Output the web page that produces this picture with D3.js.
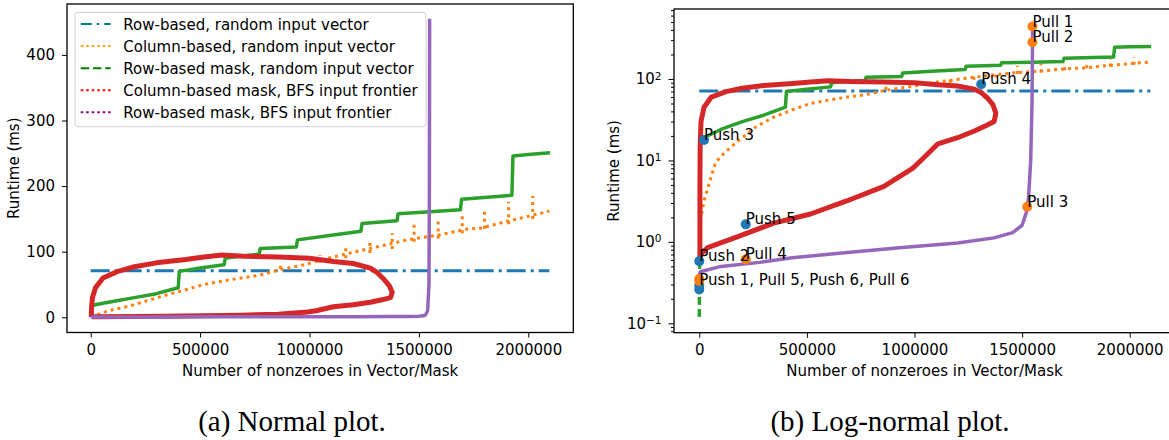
<!DOCTYPE html>
<html>
<head>
<meta charset="utf-8">
<script src="https://cdn.jsdelivr.net/npm/d3@7"></script>
<style>
  body { margin: 0; background: #fff; }
  svg text { font-family: "DejaVu Sans", sans-serif; }
  .caption { font-family: "Liberation Serif", "Times New Roman", serif; }
</style>
</head>
<body>
<svg id="chart" width="1169" height="440"></svg>
<script>
// ---- data (x = nonzeroes, y = runtime in ms) ----
const seriesNames = [
  "Row-based, random input vector",
  "Column-based, random input vector",
  "Row-based mask, random input vector",
  "Column-based mask, BFS input frontier",
  "Row-based mask, BFS input frontier"
];

const rowRandom = [[0, 71], [2096000, 71]];

const colRandom = [
  [0, 1.0], [2000, 1.6], [22000, 3.2], [73000, 9], [96000, 11], [176000, 17],
  [265000, 26], [346000, 34], [434000, 42], [517000, 50], [600000, 55],
  [688000, 60], [771000, 64], [858000, 72], [974000, 80], [1109000, 92],
  [1250000, 103], [1370000, 112], [1446000, 118], [1600000, 126],
  [1710000, 134], [1784000, 136], [1900000, 146], [2050000, 158], [2096000, 162]
];

// vertical dotted excursions of the column-based series: [x, low, high]
const colRandomSpikes = [
  [867000, 74, 84], [1048000, 83, 95], [1166000, 90, 108], [1276000, 98, 115],
  [1378000, 104, 128], [1478000, 115, 145], [1588000, 120, 152],
  [1698000, 128, 157], [1800000, 135, 165], [1910000, 142, 176], [2020000, 150, 185]
];

// dashed start of the row-based mask series, then the solid staircase
const rowMaskRandomStart = [[0, 0.12], [2000, 1]];
const rowMaskRandom = [
  [2000, 1], [4000, 17], [20000, 19], [100000, 24], [200000, 30],
  [300000, 36], [400000, 45], [405000, 70], [500000, 75], [610000, 80],
  [615000, 90], [700000, 94], [770000, 96], [775000, 105], [940000, 107],
  [945000, 118], [1100000, 125], [1235000, 131], [1240000, 143], [1400000, 147],
  [1405000, 158], [1550000, 161], [1690000, 164], [1695000, 180], [1925000, 186],
  [1930000, 246], [2000000, 248], [2100000, 251]
];

const colMaskBfs = [
  [3000, 0.6], [3000, 5], [4000, 15], [8000, 30], [22000, 45], [56000, 60],
  [124000, 70], [200000, 77], [300000, 83], [434000, 88], [517000, 92],
  [600000, 95], [700000, 93], [858000, 92], [1000000, 90], [1109000, 85],
  [1200000, 82], [1278000, 75], [1310000, 68], [1340000, 58], [1365000, 48],
  [1378000, 38], [1370000, 30], [1336000, 27], [1278000, 23], [1200000, 19],
  [1109000, 16], [1030000, 10], [991000, 8], [858000, 4.8], [688000, 3.2],
  [517000, 2.2], [346000, 1.7], [176000, 1.15], [39000, 0.85], [5000, 0.7]
];

const rowMaskBfs = [
  [0, 0.38], [5000, 0.43], [100000, 0.5], [281000, 0.56], [432000, 0.64],
  [688000, 0.74], [944000, 0.85], [1200000, 0.97], [1370000, 1.12],
  [1456000, 1.3], [1500000, 1.6], [1520000, 2.3], [1530000, 3.5],
  [1540000, 10], [1546000, 50], [1548000, 200], [1549000, 455]
];

const pushPoints = [[0, 0.26], [0, 0.58], [22000, 17.8], [1310000, 86], [216000, 1.64], [0, 0.29]];
const pullPoints = [[1548000, 440], [1548000, 282], [1524000, 2.7], [216000, 0.61], [0, 0.33], [0, 0.35]];

const annotations = [
  [1548000, 440, "Pull 1"], [1548000, 282, "Pull 2"], [1310000, 86, "Push 4"],
  [22000, 17.8, "Push 3"], [1524000, 2.7, "Pull 3"], [216000, 1.64, "Push 5"],
  [216000, 0.61, "Pull 4"], [0, 0.58, "Push 2"], [0, 0.296, "Push 1, Pull 5, Push 6, Pull 6"]
];

const xTicks = [0, 500000, 1000000, 1500000, 2000000];
const linTicks = [0, 100, 200, 300, 400];
const logTicks = [0.1, 1, 10, 100];
const captions = ["(a) Normal plot.", "(b) Log-normal plot."];

// ---- styles ----
const series = [
  { data: rowRandom, color: "#1f77b4", width: 3, dash: "19,5,3,5", legend: "#008080", legendDash: "11,5,2.5,5" },
  { data: colRandom, color: "#ff7f0e", width: 3, dash: "3,4", legend: "#ffa500", legendDash: "2.5,3" },
  { data: rowMaskRandom, color: "#2ca02c", width: 3.5, dash: null, legend: "#008000", legendDash: "8.5,3.7" },
  { data: colMaskBfs, color: "#d62728", width: 5, dash: null, legend: "#ff0000", legendDash: "2.5,3" },
  { data: rowMaskBfs, color: "#9467bd", width: 3.5, dash: null, legend: "#800080", legendDash: "2.5,3" }
];

const svg = d3.select("#chart");
svg.append("rect").attr("width", 1169).attr("height", 440).attr("fill", "#fff");

function panel(opts) {
  const x = d3.scaleLinear().domain(opts.xDomain).range(opts.xRange);
  const y = (opts.log ? d3.scaleLog() : d3.scaleLinear()).domain(opts.yDomain).range(opts.yRange);
  const g = svg.append("g");

  g.append("clipPath").attr("id", opts.id)
    .append("rect")
      .attr("x", opts.xRange[0]).attr("y", opts.yRange[1])
      .attr("width", opts.xRange[1] - opts.xRange[0])
      .attr("height", opts.yRange[0] - opts.yRange[1]);

  const plot = g.append("g").attr("clip-path", "url(#" + opts.id + ")");
  const line = d3.line().x(d => x(d[0])).y(d => y(d[1]));

  series.forEach(function(s, i) {
    plot.append("path")
      .datum(s.data)
      .attr("d", line)
      .attr("fill", "none")
      .attr("stroke", s.color)
      .attr("stroke-width", s.width)
      .attr("stroke-linejoin", "round")
      .attr("stroke-dasharray", s.dash);
    if (i === 1) {
      plot.selectAll(".spike")
        .data(colRandomSpikes)
        .enter().append("line")
          .attr("x1", d => x(d[0])).attr("x2", d => x(d[0]))
          .attr("y1", d => y(d[1])).attr("y2", d => y(d[2]))
          .attr("stroke", s.color)
          .attr("stroke-width", 3)
          .attr("stroke-dasharray", "3,4");
    }
    if (i === 2) {
      plot.append("path")
        .datum(rowMaskRandomStart)
        .attr("d", line)
        .attr("fill", "none")
        .attr("stroke", s.color)
        .attr("stroke-width", s.width)
        .attr("stroke-dasharray", "8,4");
    }
  });

  if (opts.markers) {
    plot.selectAll(".push").data(pushPoints).enter().append("circle")
      .attr("cx", d => x(d[0])).attr("cy", d => y(d[1])).attr("r", 5)
      .attr("fill", "#1f77b4");
    plot.selectAll(".pull").data(pullPoints).enter().append("circle")
      .attr("cx", d => x(d[0])).attr("cy", d => y(d[1])).attr("r", 5)
      .attr("fill", "#ff7f0e");
    plot.selectAll(".note").data(annotations).enter().append("text")
      .attr("x", d => x(d[0])).attr("y", d => y(d[1]))
      .attr("font-size", 15)
      .attr("fill", "#000")
      .text(d => d[2]);
  }

  // frame
  g.append("rect")
    .attr("x", opts.xRange[0]).attr("y", opts.yRange[1])
    .attr("width", opts.xRange[1] - opts.xRange[0])
    .attr("height", opts.yRange[0] - opts.yRange[1])
    .attr("fill", "none").attr("stroke", "#000").attr("stroke-width", 1.3);

  // x axis
  const xa = g.append("g")
    .attr("transform", "translate(0," + opts.yRange[0] + ")")
    .call(d3.axisBottom(x).tickValues(xTicks).tickFormat(d3.format("d")).tickSize(5).tickPadding(7));
  xa.select(".domain").remove();
  xa.selectAll("text").attr("font-size", 15).attr("font-family", "DejaVu Sans").attr("fill", "#000");

  // y axis
  const ya = g.append("g").attr("transform", "translate(" + opts.xRange[0] + ",0)");
  if (opts.log) {
    const minor = [];
    [0.01, 0.1, 1, 10, 100].forEach(function(p) {
      for (let k = 2; k <= 9; k++) {
        const v = p * k;
        if (v > opts.yDomain[0] && v < opts.yDomain[1]) minor.push(v);
      }
    });
    const ym = g.append("g").attr("transform", "translate(" + opts.xRange[0] + ",0)")
      .call(d3.axisLeft(y).tickValues(minor).tickSize(3).tickFormat(""));
    ym.select(".domain").remove();
    ya.call(d3.axisLeft(y).tickValues(logTicks).tickSize(5.5).tickPadding(7).tickFormat(""));
    ya.selectAll(".tick text").each(function(d) {
      const t = d3.select(this).attr("font-size", 15).attr("fill", "#000");
      const e = Math.round(Math.log10(d));
      t.append("tspan").text("10");
      t.append("tspan").attr("dy", "-0.45em").attr("font-size", 10.5)
        .text(e < 0 ? "\u2212" + (-e) : String(e));
    });
  } else {
    ya.call(d3.axisLeft(y).tickValues(linTicks).tickSize(5).tickPadding(7));
    ya.selectAll("text").attr("font-size", 15).attr("fill", "#000");
  }
  ya.select(".domain").remove();

  const cx = (opts.xRange[0] + opts.xRange[1]) / 2;
  g.append("text")
    .attr("x", cx).attr("y", 375.5)
    .attr("text-anchor", "middle").attr("font-size", 15)
    .text("Number of nonzeroes in Vector/Mask");
  g.append("text")
    .attr("transform", "translate(" + opts.yLabelX + "," + ((opts.yRange[0] + opts.yRange[1]) / 2) + ") rotate(-90)")
    .attr("text-anchor", "middle").attr("font-size", 15)
    .text("Runtime (ms)");
  g.append("text").attr("class", "caption")
    .attr("x", opts.captionX).attr("y", 431)
    .attr("text-anchor", "middle").attr("font-size", 29)
    .text(opts.caption);

  return g;
}

const left = panel({
  id: "clipA", xDomain: [-108300, 2205700], xRange: [67, 573.3],
  yDomain: [-23.2, 477.6], yRange: [332.5, 4], log: false,
  yLabelX: 18.5, captionX: 292, caption: captions[0], markers: false
});

panel({
  id: "clipB", xDomain: [-117500, 2210500], xRange: [674, 1175],
  yDomain: [0.0767, 723], yRange: [332.7, 9], log: true,
  yLabelX: 619, captionX: 890, caption: captions[1], markers: true
});

// legend on the normal plot
const legend = left.append("g");
legend.append("rect")
  .attr("x", 75).attr("y", 12.3).attr("width", 351).attr("height", 114.4)
  .attr("rx", 3).attr("fill", "#fff").attr("fill-opacity", 0.85)
  .attr("stroke", "#d0d0d0").attr("stroke-width", 1);
const rowY = d3.scaleLinear().domain([0, seriesNames.length - 1]).range([24, 112.3]);
seriesNames.forEach(function(name, i) {
  legend.append("line")
    .attr("x1", 80.7).attr("x2", 110.7)
    .attr("y1", rowY(i)).attr("y2", rowY(i))
    .attr("stroke", series[i].legend).attr("stroke-width", 2)
    .attr("stroke-dasharray", series[i].legendDash);
  legend.append("text")
    .attr("x", 123.3).attr("y", rowY(i) + 5.5)
    .attr("font-size", 15).attr("fill", "#000")
    .text(name);
});
</script>
</body>
</html>
